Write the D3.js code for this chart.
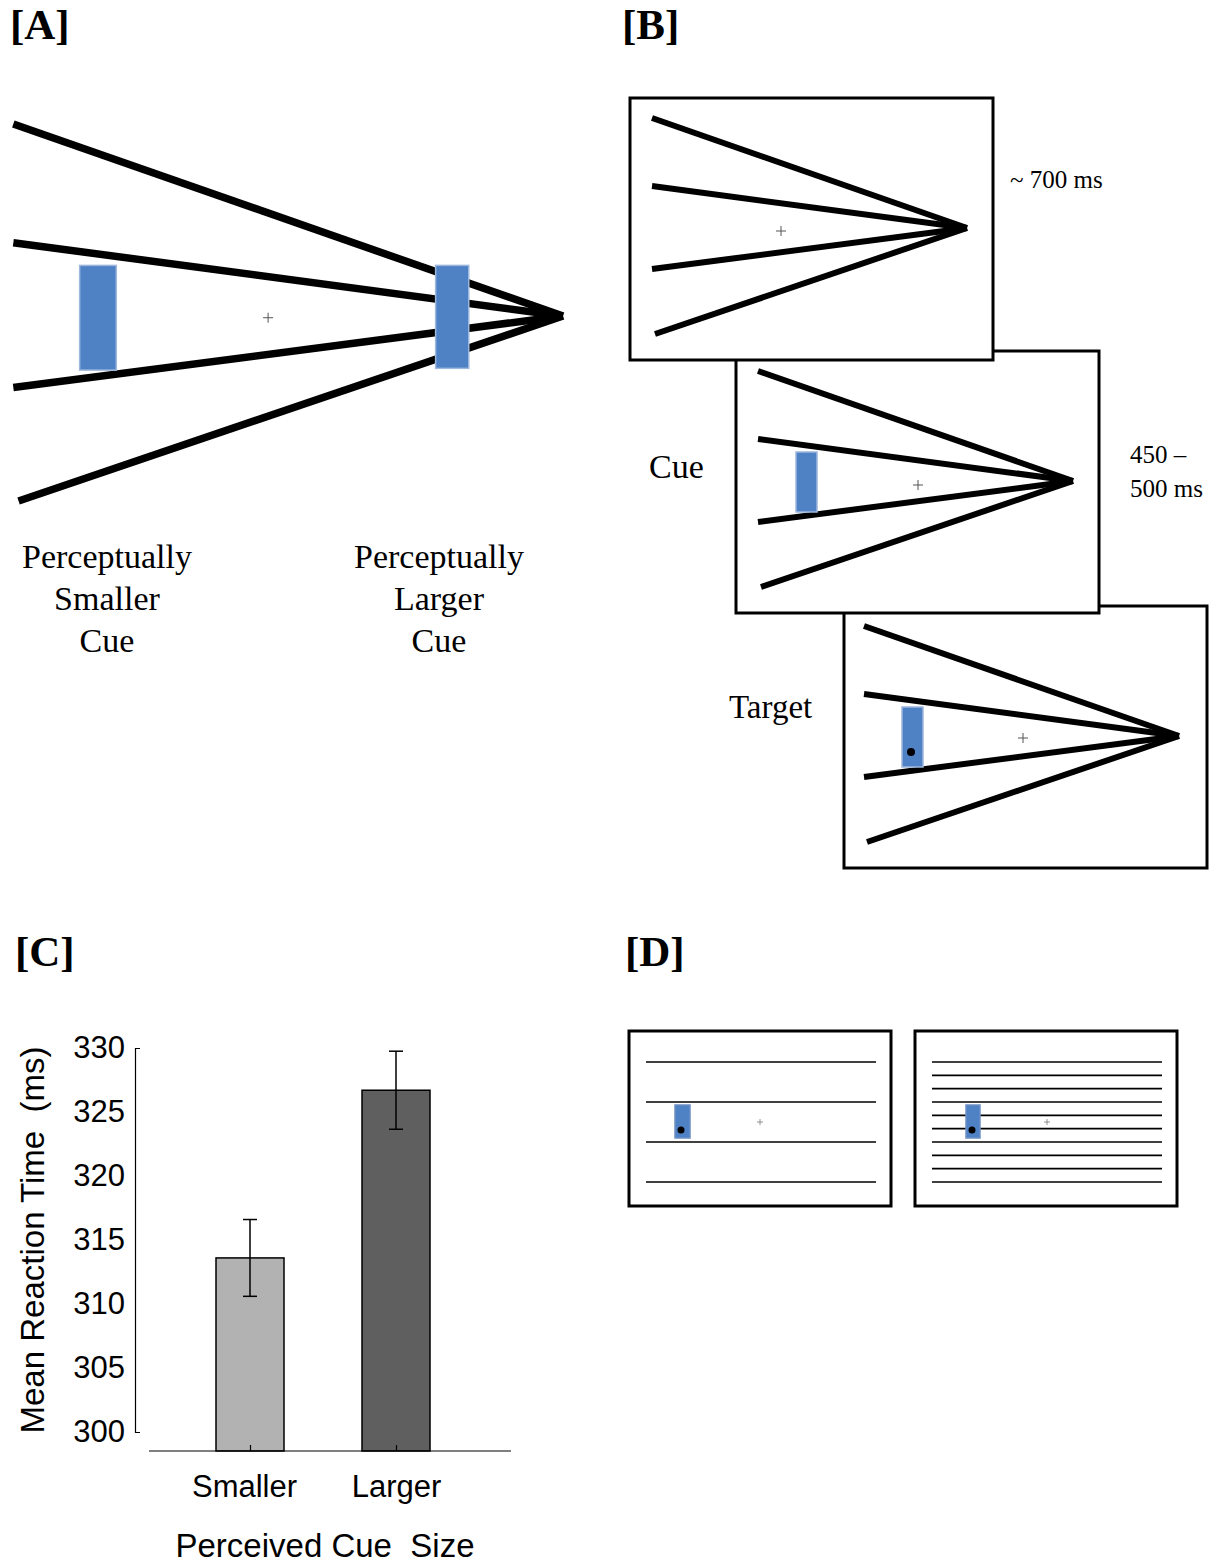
<!DOCTYPE html>
<html>
<head>
<meta charset="utf-8">
<script src="https://cdn.jsdelivr.net/npm/d3@7"></script>
<style>
  body { margin: 0; background: #fff; }
  svg { display: block; }
</style>
</head>
<body>
<svg id="fig" width="1209" height="1566"></svg>
<script>
// ---- panel C data ----
const categories = ['Smaller', 'Larger'];
const meanRT = [313.6, 326.7];
const errRT = [3.0, 3.05];
const barColors = ['#b2b2b2', '#5f5f5f'];
const yTicks = [300, 305, 310, 315, 320, 325, 330];

// ---- stimulus (Ponzo-like inducers), units relative to the apex ----
const inducerDy = [-110, -42, 41, 106];
const inducerDx = [-315, -315, -315, -312];
const smallCue = { x0: -277, x1: -256, y0: -29, y1: 31 };
const largeCue = { x0: -73, x1: -54, y0: -29, y1: 30 };
const targetDot = { x: -268, y: 16 };

// ---- panel D data: horizontal line rows (0..1 of line span) ----
const sparseRows = [0, 1 / 3, 2 / 3, 1];
const denseRows = d3.range(10).map(i => i / 9);

const svg = d3.select('#fig');
const serif = 'Liberation Serif, Times New Roman, serif';
const sans = 'Liberation Sans, Arial, sans-serif';

function panelLabel(x, y, t) {
  svg.append('text').attr('x', x).attr('y', y)
    .attr('font-family', serif).attr('font-weight', 'bold')
    .attr('font-size', 43).text(t);
}

/**
 * Draw the converging-lines stimulus.
 * apex: screen point of the vanishing point, k: scale factor
 */
function drawStimulus(g, apex, k, opts) {
  const sx = d3.scaleLinear().domain([0, 1]).range([apex[0], apex[0] + k]);
  const sy = d3.scaleLinear().domain([0, 1]).range([apex[1], apex[1] + k]);
  const lineW = opts.lineW || 6;

  g.selectAll(null)
    .data(inducerDy.map((dy, i) => ({ dx: inducerDx[i], dy })))
    .enter().append('line')
    .attr('x1', d => sx(d.dx)).attr('y1', d => sy(d.dy))
    .attr('x2', sx(0)).attr('y2', sy(0))
    .attr('stroke', '#000').attr('stroke-width', lineW)
    .attr('stroke-linecap', 'butt');

  // fixation cross
  const p = opts.plus;
  g.append('path')
    .attr('d', `M${sx(p[0]) - 5},${sy(p[1])}h10M${sx(p[0])},${sy(p[1]) - 5}v10`)
    .attr('stroke', '#555').attr('stroke-width', 1);

  (opts.cues || []).forEach(c => {
    g.append('rect')
      .attr('x', sx(c.x0)).attr('y', sy(c.y0))
      .attr('width', sx(c.x1) - sx(c.x0)).attr('height', sy(c.y1) - sy(c.y0))
      .attr('fill', '#4f81c5').attr('stroke', '#9fb7dc').attr('stroke-width', 1.5);
  });
  if (opts.dot) {
    g.append('circle').attr('cx', sx(targetDot.x)).attr('cy', sy(targetDot.y))
      .attr('r', 4).attr('fill', '#000');
  }
}

// ================= Panel A =================
panelLabel(10, 39, '[A]');
const gA = svg.append('g');
drawStimulus(gA, [563, 316], 1.745, { lineW: 7.5, plus: [-169, 1], cues: [smallCue, largeCue] });

const aLabels = [
  { x: 107, lines: ['Perceptually', 'Smaller', 'Cue'] },
  { x: 439, lines: ['Perceptually', 'Larger', 'Cue'] }
];
aLabels.forEach(l => {
  l.lines.forEach((t, i) => {
    svg.append('text').attr('x', l.x).attr('y', 568 + i * 42)
      .attr('text-anchor', 'middle').attr('font-family', serif)
      .attr('font-size', 34).text(t);
  });
});

// ================= Panel B =================
panelLabel(622, 39, '[B]');
const frames = [
  { x: 630, y: 98, apex: [967, 228], plus: [-186, 3], cues: [], dot: false },
  { x: 736, y: 351, apex: [1073, 481], plus: [-155, 4], cues: [smallCue], dot: false },
  { x: 844, y: 606, apex: [1179, 736], plus: [-156, 2], cues: [smallCue], dot: true }
];
const frameW = 363, frameH = 262;
// draw later frames first so earlier ones sit on top
frames.slice().reverse().forEach(f => {
  const g = svg.append('g');
  g.append('rect').attr('x', f.x).attr('y', f.y).attr('width', frameW).attr('height', frameH)
    .attr('fill', '#fff').attr('stroke', '#000').attr('stroke-width', 3);
  drawStimulus(g, f.apex, 1, { lineW: 6, plus: f.plus, cues: f.cues, dot: f.dot });
});

const bText = [
  { x: 1010, y: 188, s: 25, t: '~ 700 ms' },
  { x: 1130, y: 463, s: 25, t: '450 –' },
  { x: 1130, y: 497, s: 25, t: '500 ms' },
  { x: 649, y: 478, s: 34, t: 'Cue' },
  { x: 729, y: 718, s: 33, t: 'Target' }
];
bText.forEach(d => {
  svg.append('text').attr('x', d.x).attr('y', d.y).attr('font-family', serif)
    .attr('font-size', d.s).text(d.t);
});

// ================= Panel C =================
panelLabel(15, 966, '[C]');
const y = d3.scaleLinear().domain([300, 330]).range([1432, 1048]);
const baseY = 1451;
const x = d3.scalePoint().domain(categories).range([250, 396]);
const barW = 68;
const gC = svg.append('g');

gC.append('g').attr('transform', 'translate(135,0)')
  .call(d3.axisLeft(y).tickValues(yTicks).tickSizeInner(0).tickSizeOuter(-5).tickPadding(10))
  .call(a => a.selectAll('text').attr('font-family', sans).attr('font-size', 31).attr('fill', '#000'))
  .call(a => a.select('.domain').attr('stroke', '#000').attr('stroke-width', 1.2));

const bars = categories.map((c, i) => ({ c, v: meanRT[i], e: errRT[i], col: barColors[i] }));
gC.selectAll('rect.bar').data(bars).enter().append('rect')
  .attr('class', 'bar')
  .attr('x', d => x(d.c) - barW / 2).attr('y', d => y(d.v))
  .attr('width', barW).attr('height', d => baseY - y(d.v))
  .attr('fill', d => d.col).attr('stroke', '#000').attr('stroke-width', 1.5);

// error bars
const capW = 7;
const eb = gC.selectAll('g.err').data(bars).enter().append('g').attr('class', 'err')
  .attr('stroke', '#000').attr('stroke-width', 1.5);
eb.append('line').attr('x1', d => x(d.c)).attr('x2', d => x(d.c))
  .attr('y1', d => y(d.v + d.e)).attr('y2', d => y(d.v - d.e));
eb.append('line').attr('x1', d => x(d.c) - capW).attr('x2', d => x(d.c) + capW)
  .attr('y1', d => y(d.v + d.e)).attr('y2', d => y(d.v + d.e));
eb.append('line').attr('x1', d => x(d.c) - capW).attr('x2', d => x(d.c) + capW)
  .attr('y1', d => y(d.v - d.e)).attr('y2', d => y(d.v - d.e));

// x axis
gC.append('line').attr('x1', 149).attr('x2', 511).attr('y1', baseY).attr('y2', baseY)
  .attr('stroke', '#000').attr('stroke-width', 1.2);
gC.append('g').attr('transform', `translate(0,${baseY})`)
  .call(d3.axisBottom(x).tickSizeInner(-6).tickSizeOuter(0).tickPadding(24))
  .call(a => a.select('.domain').remove())
  .call(a => a.selectAll('line').attr('stroke', '#000').attr('stroke-width', 1.2))
  .call(a => a.selectAll('text').attr('font-family', sans).attr('font-size', 31).attr('fill', '#000'))
  .call(a => a.selectAll('.tick').filter(d => d === 'Smaller').select('text').attr('dx', -6));

svg.append('text').attr('x', 325).attr('y', 1557).attr('text-anchor', 'middle')
  .attr('font-family', sans).attr('font-size', 33).attr('xml:space', 'preserve')
  .text('Perceived Cue  Size');
svg.append('text').attr('transform', 'translate(44,1240) rotate(-90)')
  .attr('text-anchor', 'middle').attr('font-family', sans).attr('font-size', 33)
  .attr('xml:space', 'preserve').text('Mean Reaction Time  (ms)');

// ================= Panel D =================
panelLabel(625, 966, '[D]');
const dFrames = [
  { x: 629, rows: sparseRows, cue: [675, 690], plusX: 760 },
  { x: 915, rows: denseRows, cue: [966, 980], plusX: 1047 }
];
const dy = d3.scaleLinear().domain([0, 1]).range([1062, 1182]);
dFrames.forEach(f => {
  const g = svg.append('g');
  g.append('rect').attr('x', f.x).attr('y', 1031).attr('width', 262).attr('height', 175)
    .attr('fill', '#fff').attr('stroke', '#000').attr('stroke-width', 3);
  g.selectAll(null).data(f.rows).enter().append('line')
    .attr('x1', f.x + 17).attr('x2', f.x + 247)
    .attr('y1', d => dy(d)).attr('y2', d => dy(d))
    .attr('stroke', '#000').attr('stroke-width', 1.6);
  g.append('rect').attr('x', f.cue[0]).attr('y', 1105)
    .attr('width', f.cue[1] - f.cue[0]).attr('height', 33)
    .attr('fill', '#4f81c5').attr('stroke', '#6d8fc4').attr('stroke-width', 1.5);
  g.append('circle').attr('cx', f.cue[0] + 6).attr('cy', 1130).attr('r', 3.5).attr('fill', '#000');
  g.append('path').attr('d', `M${f.plusX - 3},1122h6M${f.plusX},1119v6`)
    .attr('stroke', '#777').attr('stroke-width', 0.8);
});
</script>
</body>
</html>
